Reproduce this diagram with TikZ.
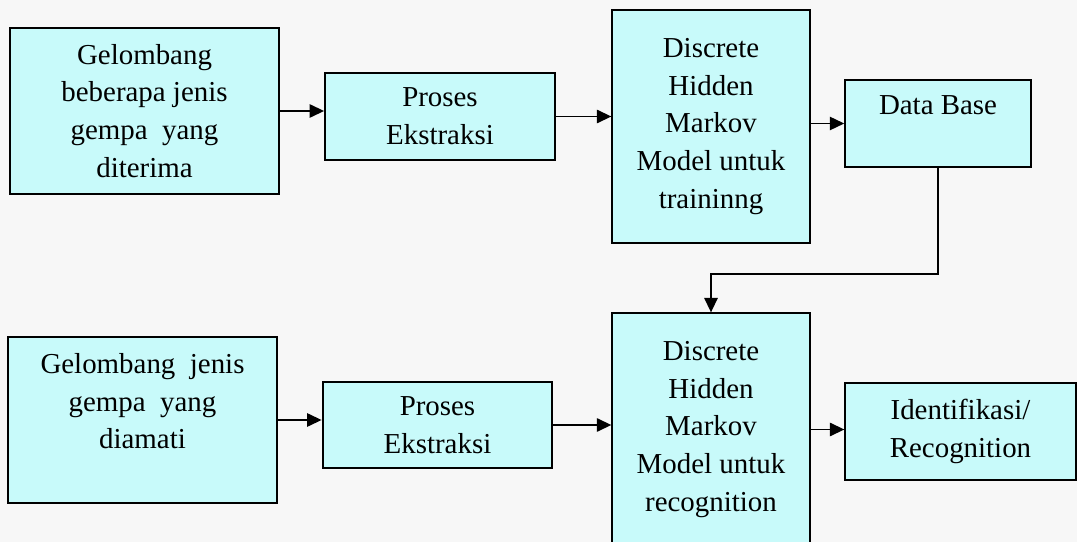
\documentclass[tikz,border=0pt]{standalone}
\usepackage{fontspec}
\setmainfont{Liberation Serif}
\usetikzlibrary{positioning,calc}
\usetikzlibrary{arrows.meta}
\definecolor{boxfill}{RGB}{200,250,250}
\colorlet{pagebg}{gray!6}

\begin{document}
\begin{tikzpicture}[x=0.01458cm, y=-0.01458cm, >={Triangle[length=6pt,width=5.5pt]}, font=\fontsize{12}{15.7}\selectfont,
	box/.style={draw=black, line width=0.8pt, fill=boxfill, align=center, inner sep=1pt},
	wide/.style={box, minimum width=111.3pt, minimum height=68.7pt},
	proc/.style={box, minimum width=95.4pt, minimum height=35.8pt},
	hmm/.style={box, minimum width=81.9pt, minimum height=96.4pt},
	flow/.style={->, line width=0.8pt}]
				\fill[pagebg] (0,0) rectangle (1077,542);
				\useasboundingbox (0,0) rectangle (1077,542);
				\clip (0,0) rectangle (1077,542);
				% training
				\node[wide] (gel1) at (144.5,111) {Gelombang\\beberapa jenis\\gempa\ \ yang\\diterima};
				\node[proc] (eks1) at (440,116.5) {Proses\\Ekstraksi};
				\node[hmm] (hmm1) at (711,126.5) {Discrete\\Hidden\\Markov\\Model untuk\\traininng};
				\node[box, minimum width=77pt, minimum height=36pt] (db) at (938,123.5) {Data Base\\ ~};
				% recognition
				\node[wide] (gel2) at (142.5,420) {Gelombang\ \ jenis\\gempa\ \ yang\\diamati\\ ~};
				\node[proc] (eks2) at (437.5,425) {Proses\\Ekstraksi};
				\node[hmm] (hmm2) at (711,429.5) {Discrete\\Hidden\\Markov\\Model untuk\\recognition};
				\node[box, minimum width=95.6pt, minimum height=40.1pt] (id) at (960.5,431.5) {Identifikasi/\\Recognition};
				\coordinate (dbjoin) at (938,274);
				\draw[flow] (gel1.east) -- (gel1.east -| eks1.west);\draw[flow] (eks1.east) -- (eks1.east -| hmm1.west);
				\draw[flow] (hmm1.east |- db.west) -- (db.west);
				\draw[flow] (db.south) -- (dbjoin) -| (hmm2.north);
				\draw[flow] (gel2.east) -- (gel2.east -| eks2.west);\draw[flow] (eks2.east) -- (eks2.east -| hmm2.west);
				\draw[flow] (hmm2.east) -- (hmm2.east -| id.west);
			\end{tikzpicture}
\end{document}
